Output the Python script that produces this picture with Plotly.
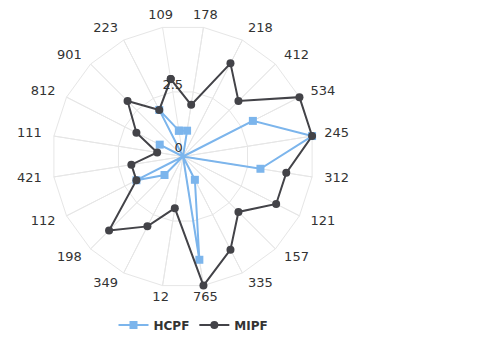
import math
import plotly.graph_objects as go

categories = ["109", "178", "218", "412", "534", "245", "312", "121", "157", "335",
              "765", "12", "349", "198", "112", "421", "111", "812", "901", "223"]
hcpf = [1, 1, 0, 0, 3, 5, 3, 0, 0, 1, 4, 0, 0, 1, 2, 0, 0, 1, 0, 2]
mipf = [3, 2, 4, 3, 5, 5, 4, 4, 3, 4, 5, 2, 3, 4, 2, 2, 1, 2, 3, 2]
radial_ticks = [0, 2.5]
radial_ticktext = ["0", "2.5"]
radial_max = 5

FONT = "DejaVu Sans"
TXT = "#333333"
GRID = "#e6e6e6"
ROT = 99
LABEL_R = 5.47    # radius (axis units) where category labels sit
RANGE_MAX = 5.5   # room outside the outer ring for the labels
MIN_LABEL_R = 0.04  # label anchors must sit just off the exact centre to be drawn

# polar placement in pixels (center and pixel radius of the full range)
W, H = 482, 337
CX, CY = 183.0, 156.5
RPX = 130.7 / radial_max * RANGE_MAX


def closed(seq):
    return list(seq) + [seq[0]]


def label_position(i, n):
    ang = (ROT - 360.0 / n * i) % 360
    c = math.cos(math.radians(ang))
    if abs(c) < 0.2:
        return "middle center"
    return "middle right" if c > 0 else "middle left"


fig = go.Figure()

# spokes (angular grid) from the centre to the outer ring
spoke_r, spoke_t = [], []
for c in categories:
    spoke_r += [radial_max, 0]
    spoke_t += [c, c]
fig.add_trace(go.Scatterpolar(
    r=spoke_r, theta=spoke_t, mode="lines",
    line=dict(color=GRID, width=1), showlegend=False, hoverinfo="skip",
))

fig.add_trace(go.Scatterpolar(
    r=closed(hcpf), theta=closed(categories), name="HCPF",
    mode="lines+markers",
    line=dict(color="#7cb5ec", width=2),
    marker=dict(symbol="square", size=8, color="#7cb5ec"),
))
fig.add_trace(go.Scatterpolar(
    r=closed(mipf), theta=closed(categories), name="MIPF",
    mode="lines+markers",
    line=dict(color="#434348", width=2),
    marker=dict(symbol="circle", size=8, color="#434348"),
))

# category labels drawn through the polar scales
fig.add_trace(go.Scatterpolar(
    r=[LABEL_R] * len(categories), theta=categories, text=categories,
    mode="text", showlegend=False, hoverinfo="skip", cliponaxis=False,
    textposition=[label_position(i, len(categories)) for i in range(len(categories))],
    textfont=dict(family=FONT, size=13, color=TXT),
))

# radial tick labels along the first spoke
fig.add_trace(go.Scatterpolar(
    r=[max(v, MIN_LABEL_R) for v in radial_ticks],
    theta=[categories[0]] * len(radial_ticks), text=radial_ticktext,
    mode="text", showlegend=False, hoverinfo="skip", cliponaxis=False,
    textposition=["top left", "top center"],
    textfont=dict(family=FONT, size=13, color=TXT),
))

fig.update_layout(
    width=W, height=H,
    margin=dict(l=0, r=0, t=0, b=0, autoexpand=False),
    paper_bgcolor="white",
    font=dict(family=FONT, size=13, color=TXT),
    hovermode=False,
    polar=dict(
        domain=dict(x=[(CX - RPX) / W, (CX + RPX) / W],
                    y=[1 - (CY + RPX) / H, 1 - (CY - RPX) / H]),
        bgcolor="white",
        gridshape="linear",
        angularaxis=dict(
            type="category",
            categoryorder="array", categoryarray=categories,
            rotation=ROT, direction="clockwise",
            showline=False, showgrid=False,
            ticks="", showticklabels=False,
        ),
        radialaxis=dict(
            range=[0, RANGE_MAX], angle=ROT,
            tickvals=[2.5, radial_max],
            showline=False, ticks="", showticklabels=False,
            gridcolor=GRID, gridwidth=1,
        ),
    ),
    showlegend=True,
    legend=dict(
        orientation="h", x=193.5 / W, xanchor="center", y=1 - 325 / H, yanchor="middle",
        font=dict(family=FONT, size=12, color=TXT, weight="bold"),
        bgcolor="rgba(0,0,0,0)",
    ),
)

fig.write_html("out.html", config={"displayModeBar": False},
               post_script="document.body.style.margin='0px';")
